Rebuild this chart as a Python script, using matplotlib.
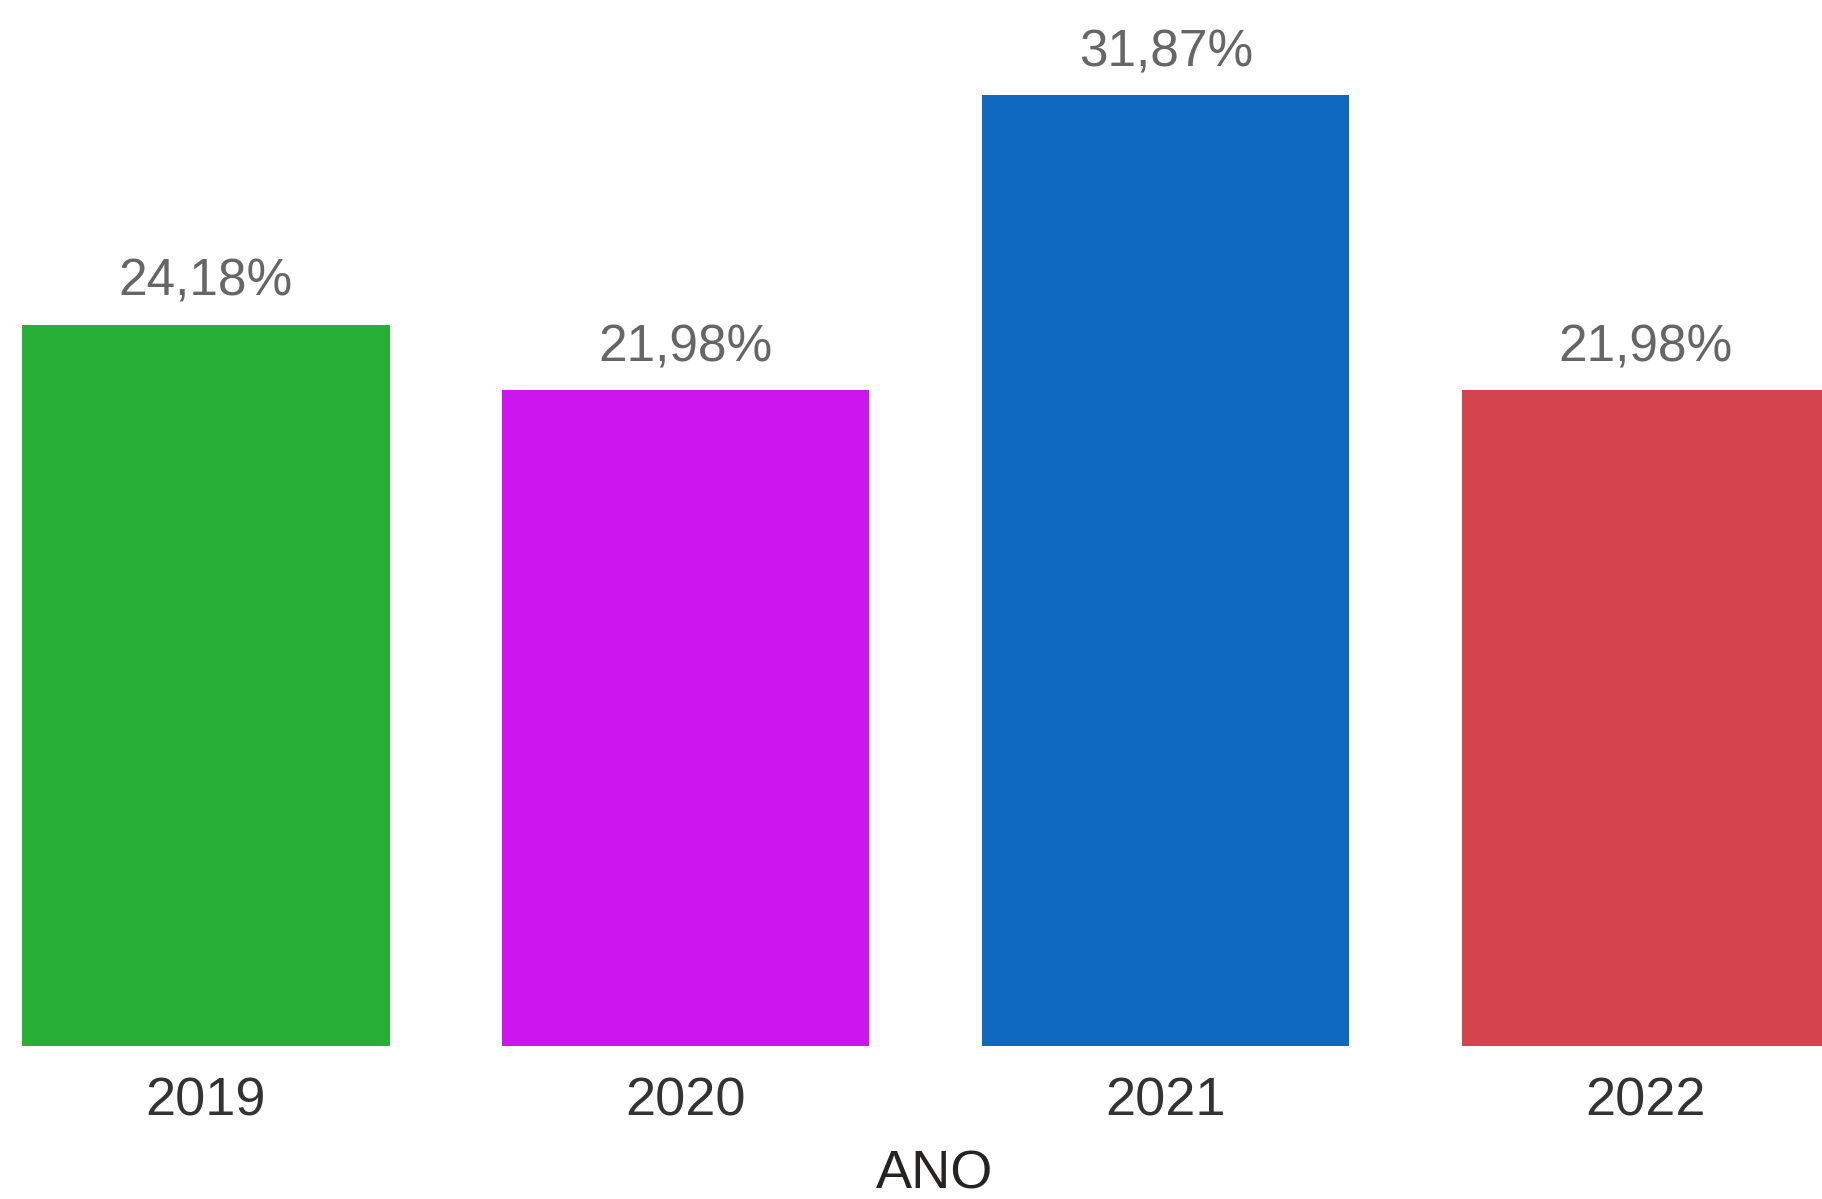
import matplotlib
matplotlib.use("Agg")
import matplotlib.pyplot as plt

# Share per year (%)
years = ["2019", "2020", "2021", "2022"]
shares = [24.18, 21.98, 31.87, 21.98]
bar_colors = ["#27B035", "#CD15EF", "#0E69BF", "#D5434F"]

font = ["Liberation Sans", "DejaVu Sans"]

fig = plt.figure(figsize=(18.22, 11.99), dpi=100)
ax = fig.add_axes([0.0, 0.1276, 1.0, 0.8724])

x = range(len(years))
bars = ax.bar(x, shares, width=0.765, color=bar_colors)

ax.set_xlim(-0.429, 3.367)
ax.set_ylim(0, 35.07)

for rect, v in zip(bars, shares):
    label = f"{v:.2f}%".replace(".", ",")
    ax.annotate(label, (rect.get_x() + rect.get_width() / 2, rect.get_height()),
                xytext=(0, 21), textcoords="offset points",
                ha="center", va="baseline", fontsize=37,
                color="#666666", family=font)

ax.set_xticks(list(x))
ax.set_xticklabels(years, fontsize=39, color="#333333", family=font)
ax.tick_params(axis="x", length=0, pad=22)
ax.set_yticks([])
ax.set_xlabel("ANO", fontsize=39, color="#252423", family=font)
ax.xaxis.set_label_coords(0.513, -0.099)

for s in ax.spines.values():
    s.set_visible(False)

fig.savefig("out.png", dpi=100)
